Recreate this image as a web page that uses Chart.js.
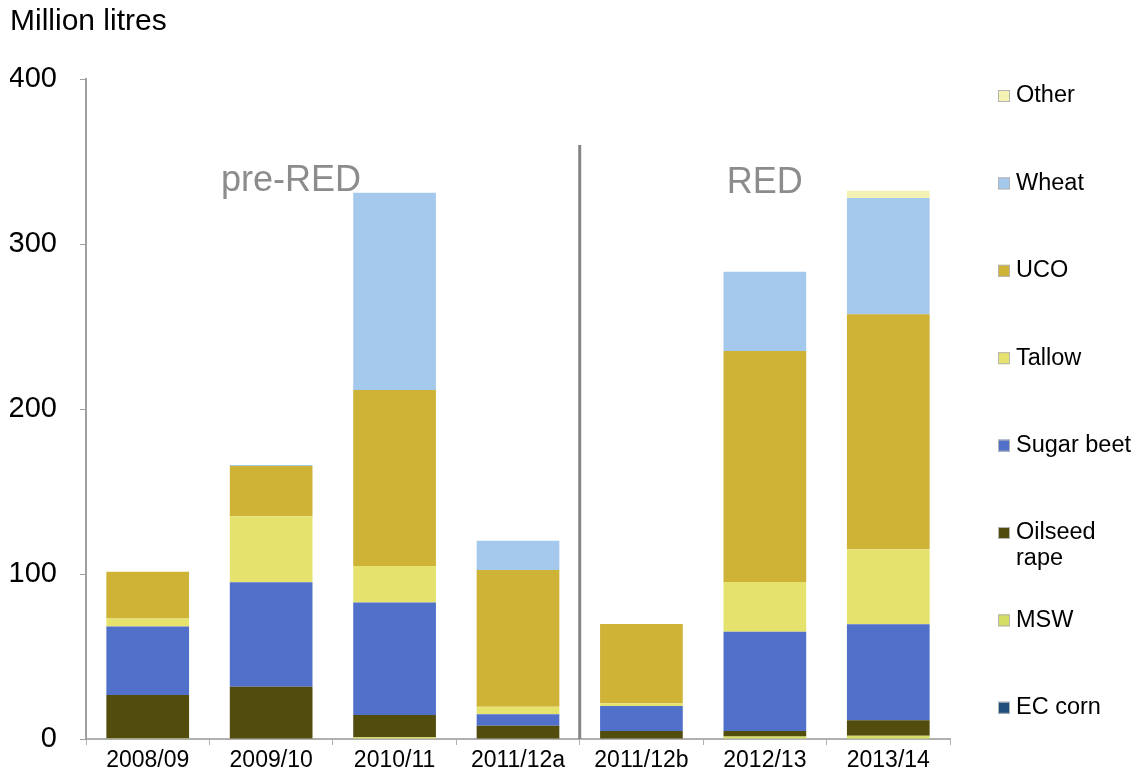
<!DOCTYPE html>
<html>
<head>
<meta charset="utf-8">
<script src="https://cdn.jsdelivr.net/npm/chart.js@4.4.1/dist/chart.umd.min.js"></script>
<style>
  html, body { margin: 0; padding: 0; background: #fff; }
  #wrap { width: 1139px; height: 774px; }
</style>
</head>
<body>
<div id="wrap"><canvas id="myChart" width="1139" height="774"></canvas></div>
<script>
// categories and series (million litres), bottom of stack first
let years = ['2008/09', '2009/10', '2010/11', '2011/12a', '2011/12b', '2012/13', '2013/14'];
let ecCorn = [0, 0, 0, 0, 0, 0, 0];
let msw = [0.5, 0, 1, 0, 0, 1.5, 2];
let oilseedRape = [26.2, 31.7, 13.5, 8, 4.8, 3.3, 9.3];
let sugarBeet = [41.5, 63.3, 68.3, 7, 15.2, 60.2, 58.2];
let tallow = [4.8, 40, 22, 4.6, 1.6, 30.2, 45.5];
let uco = [28.4, 30.5, 106.7, 82.8, 48.1, 140, 142.4];
let wheat = [0, 0.5, 119.5, 17.8, 0, 48, 70.5];
let other = [0, 0, 0, 0, 0, 0, 4.4];
let yTicks = [0, 100, 200, 300, 400];

let FONT = '"Liberation Sans", Arial, sans-serif';

function ds(label, data, color){
    return {
        label: label,
        data: data,
        backgroundColor: color,
        borderWidth: 0,
        barPercentage: 0.67,
        categoryPercentage: 1
    };
}

let datasets = [
    ds('EC corn', ecCorn, '#1f4e7c'),
    ds('MSW', msw, '#d3dc63'),
    ds(['Oilseed', 'rape'], oilseedRape, '#524d0d'),
    ds('Sugar beet', sugarBeet, '#5070ca'),
    ds('Tallow', tallow, '#e5e26e'),
    ds('UCO', uco, '#cfb336'),
    ds('Wheat', wheat, '#a5c9ed'),
    ds('Other', other, '#f3f2b3')
];

// divider line + pre-RED / RED labels
let periodPlugin = {
    id: 'periods',
    afterDatasetsDraw(chart){
        let ctx = chart.ctx;
        let x = chart.scales.x;
        let y = chart.scales.y;
        let xDiv = (x.getPixelForValue(3) + x.getPixelForValue(4)) / 2;
        ctx.save();
        ctx.strokeStyle = '#858585';
        ctx.lineWidth = 3;
        ctx.beginPath();
        ctx.moveTo(xDiv, y.getPixelForValue(360));
        ctx.lineTo(xDiv, y.getPixelForValue(0));
        ctx.stroke();
        ctx.fillStyle = '#8c8c8c';
        ctx.font = '36px ' + FONT;
        ctx.textAlign = 'center';
        ctx.textBaseline = 'middle';
        ctx.fillText('pre-RED', x.getPixelForValue(1.16), y.getPixelForValue(338));
        ctx.fillText('RED', x.getPixelForValue(5), y.getPixelForValue(337));
        ctx.restore();
    }
};

// legend on the right, top item = top of stack
let legendPlugin = {
    id: 'sideLegend',
    afterDraw(chart){
        let ctx = chart.ctx;
        let area = chart.chartArea;
        let items = chart.data.datasets.slice().reverse();
        let step = 87.4;
        ctx.save();
        ctx.font = '23.5px ' + FONT;
        ctx.textBaseline = 'middle';
        ctx.textAlign = 'left';
        for (let i = 0; i < items.length; i++) {
            let cy = area.top + 17 + i * step;
            ctx.fillStyle = items[i].backgroundColor;
            ctx.fillRect(998, cy - 6, 12, 12);
            ctx.strokeStyle = '#b5b5b5';
            ctx.lineWidth = 1;
            ctx.strokeRect(998.5, cy - 5.5, 11, 11);
            ctx.fillStyle = '#000';
            let lines = Array.isArray(items[i].label) ? items[i].label : [items[i].label];
            for (let j = 0; j < lines.length; j++) {
                ctx.fillText(lines[j], 1016, cy + j * 26);
            }
        }
        ctx.restore();
    }
};

let ctx = document.getElementById('myChart').getContext('2d');
let myChart = new Chart(ctx, {
    type: 'bar',
    data: {
        labels: years,
        datasets: datasets
    },
    options: {
        responsive: false,
        animation: false,
        layout: { padding: { left: 10, right: 189, top: 0, bottom: 0 } },
        plugins: {
            legend: { display: false },
            tooltip: { enabled: false },
            title: {
                display: true,
                text: 'Million litres',
                align: 'start',
                color: '#000',
                font: { family: FONT, size: 30, weight: 'normal' },
                padding: { top: 4, bottom: 39 }
            }
        },
        scales: {
            x: {
                stacked: true,
                offset: true,
                afterFit(axis){ axis.height = 35; },
                grid: { display: true, offset: true, drawOnChartArea: false, tickLength: 6, color: '#b0b0b0' },
                border: { display: true, color: '#b0b0b0', width: 2 },
                ticks: { color: '#000', font: { family: FONT, size: 23 }, padding: 2, maxRotation: 0 }
            },
            y: {
                stacked: true,
                min: 0,
                max: 400,
                afterBuildTicks(axis){
                    axis.ticks = yTicks.map(v => ({ value: v }));
                },
                afterFit(axis){
                    axis.width = 76;
                    axis.paddingTop = 18;
                    axis.paddingBottom = 18;
                },
                grid: { display: true, drawOnChartArea: false, tickLength: 6, color: '#a0a0a0' },
                border: { display: true, color: '#a0a0a0', width: 2 },
                ticks: { color: '#000', font: { family: FONT, size: 29 }, padding: 23 }
            }
        }
    },
    plugins: [periodPlugin, legendPlugin]
});
</script>
</body>
</html>
